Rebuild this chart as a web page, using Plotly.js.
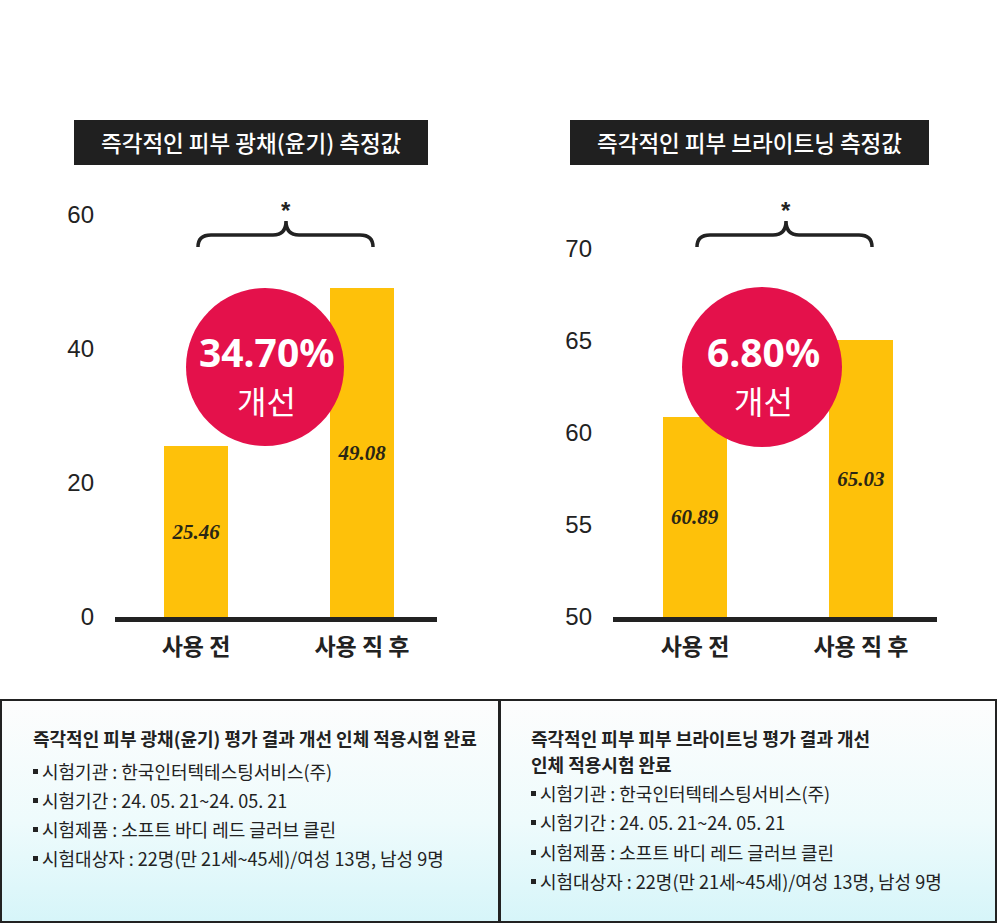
<!DOCTYPE html>
<html>
<head>
<meta charset="utf-8">
<script src="https://cdn.plot.ly/plotly-3.0.1.min.js"></script>
<style>
  html, body { margin: 0; padding: 0; background: #ffffff; }
  #wrap { position: relative; width: 1000px; height: 924px; overflow: hidden; background: #ffffff; }
  .panel { position: absolute; top: 700px; height: 222px;
           background: linear-gradient(to bottom, #fdfdfd 0%, #eefbfc 55%, #d6f5f9 100%); }
  #chart { position: absolute; left: 0; top: 0; width: 1000px; height: 924px; }
</style>
</head>
<body>
<div id="wrap">
  <div class="panel" style="left:1px; width:498px;"></div>
  <div class="panel" style="left:500px; width:496px;"></div>
  <div id="chart"></div>
</div>
<script>
// Measurement data
const categories = ['사용 전', '사용 직 후'];
const glossValues = [25.46, 49.08];      // 광채(윤기)
const brightValues = [60.89, 65.03];     // 브라이트닝
const glossTicks = [0, 20, 40, 60];
const brightTicks = [50, 55, 60, 65, 70];
const improvements = ['34.70%', '6.80%'];
const chartTitles = ['즉각적인 피부 광채(윤기) 측정값', '즉각적인 피부 브라이트닝 측정값'];
const panelTitles = [
  ['즉각적인 피부 광채(윤기) 평가 결과 개선 인체 적용시험 완료'],
  ['즉각적인 피부 피부 브라이트닝 평가 결과 개선', '인체 적용시험 완료']
];
const panelLines = [
  '시험기관 : 한국인터텍테스팅서비스(주)',
  '시험기간 : 24. 05. 21~24. 05. 21',
  '시험제품 : 소프트 바디 레드 글러브 클린',
  '시험대상자 : 22명(만 21세~45세)/여성 13명, 남성 9명'
];

const W = 1000, H = 924;
const fx = x => x / W;
const fy = y => 1 - y / H;
const P = (x, y) => fx(x) + ',' + fy(y);

const KR = 'Noto Sans CJK KR';
const INK = '#222222';
const BAR = '#FEC10A';
const RED = '#E4114B';

const glossBase = glossTicks[0];
const brightBase = brightTicks[0];

function barTrace(values, base, xa, ya) {
  return {
    type: 'bar', x: categories, y: values.map(v => v - base), base: base,
    xaxis: xa, yaxis: ya, width: 0.386,
    marker: { color: BAR, line: { width: 0 } },
    text: values.map(v => v.toFixed(2)),
    textposition: 'inside', insidetextanchor: 'middle', constraintext: 'none',
    textfont: { family: 'Liberation Serif', size: 21, weight: 700, style: 'italic', color: '#2a2615' },
    hoverinfo: 'skip', showlegend: false
  };
}

const data = [
  barTrace(glossValues, glossBase, 'x', 'y'),
  barTrace(brightValues, brightBase, 'x2', 'y2')
];

const yTickFont = { family: 'Liberation Sans', size: 24, color: INK };
const xTickFont = { family: KR, size: 23, weight: 700, color: INK };

const layout = {
  width: W, height: H,
  margin: { l: 0, r: 0, t: 0, b: 0 },
  paper_bgcolor: 'rgba(0,0,0,0)', plot_bgcolor: 'rgba(0,0,0,0)',
  bargap: 0,
  xaxis: { domain: [fx(115), fx(437)], range: [-0.488, 1.452], anchor: 'y',
           showline: true, linecolor: INK, linewidth: 5, showgrid: false, zeroline: false,
           ticks: '', tickfont: xTickFont, ticklabelstandoff: 5, fixedrange: true },
  yaxis: { domain: [fy(617), fy(215)], range: [glossTicks[0], glossTicks[glossTicks.length - 1]],
           anchor: 'x', tickvals: glossTicks, showline: false, showgrid: false, zeroline: false,
           ticks: '', tickfont: yTickFont, ticklabelstandoff: 20, fixedrange: true },
  xaxis2: { domain: [fx(613), fx(937)], range: [-0.494, 1.458], anchor: 'y2',
            showline: true, linecolor: INK, linewidth: 5, showgrid: false, zeroline: false,
            ticks: '', tickfont: xTickFont, ticklabelstandoff: 5, fixedrange: true },
  yaxis2: { domain: [fy(617), fy(249)], range: [brightTicks[0], brightTicks[brightTicks.length - 1]],
            anchor: 'x2', tickvals: brightTicks, showline: false, showgrid: false, zeroline: false,
            ticks: '', tickfont: yTickFont, ticklabelstandoff: 20, fixedrange: true },
  shapes: [],
  annotations: []
};

// chart titles on dark bars
const titleBoxes = [[74, 428], [570, 929]];
titleBoxes.forEach((b, i) => {
  layout.shapes.push({ type: 'rect', xref: 'paper', yref: 'paper',
    x0: fx(b[0]), x1: fx(b[1]), y0: fy(165), y1: fy(120),
    fillcolor: '#202020', line: { width: 0 }, layer: 'below' });
  layout.annotations.push({ xref: 'paper', yref: 'paper', x: fx((b[0] + b[1]) / 2), y: fy(142),
    text: chartTitles[i], showarrow: false, xanchor: 'center', yanchor: 'middle',
    font: { family: KR, size: 22.5, weight: 500, color: '#ffffff' } });
});

// significance braces with asterisks
function brace(x0, xm, x1) {
  const yEnd = 247, yBar = 235, yTip = 221, r = 13;
  return 'M ' + P(x0, yEnd) +
    ' Q ' + P(x0, yBar) + ' ' + P(x0 + r, yBar) +
    ' L ' + P(xm - r, yBar) +
    ' Q ' + P(xm, yBar) + ' ' + P(xm, yTip) +
    ' Q ' + P(xm, yBar) + ' ' + P(xm + r, yBar) +
    ' L ' + P(x1 - r, yBar) +
    ' Q ' + P(x1, yBar) + ' ' + P(x1, yEnd);
}
[[198, 286, 373], [697, 786, 872]].forEach(b => {
  layout.shapes.push({ type: 'path', xref: 'paper', yref: 'paper', path: brace(b[0], b[1], b[2]),
    line: { color: INK, width: 3.5 } });
  layout.annotations.push({ xref: 'paper', yref: 'paper', x: fx(b[1]), y: fy(210),
    text: '*', showarrow: false, xanchor: 'center', yanchor: 'middle',
    font: { family: 'Liberation Sans', size: 24, weight: 700, color: INK } });
});

// improvement badges
const badges = [[265, 367, 79], [762, 367, 80]];
badges.forEach((c, i) => {
  layout.shapes.push({ type: 'circle', xref: 'paper', yref: 'paper',
    x0: fx(c[0] - c[2]), x1: fx(c[0] + c[2]), y0: fy(c[1] + c[2]), y1: fy(c[1] - c[2]),
    fillcolor: RED, line: { width: 0 }, layer: 'above' });
  layout.annotations.push({ xref: 'paper', yref: 'paper', x: fx(c[0] + 1), y: fy(351),
    text: improvements[i], showarrow: false, xanchor: 'center', yanchor: 'middle',
    font: { family: 'Noto Sans', size: 39, weight: 700, color: '#ffffff' } });
  layout.annotations.push({ xref: 'paper', yref: 'paper', x: fx(c[0] + 1), y: fy(400),
    text: '개선', showarrow: false, xanchor: 'center', yanchor: 'middle',
    font: { family: KR, size: 32, weight: 400, color: '#ffffff' } });
});

// test information panels
[[1, 499], [500, 996]].forEach(b => {
  layout.shapes.push({ type: 'rect', xref: 'paper', yref: 'paper',
    x0: fx(b[0]), x1: fx(b[1]), y0: fy(922), y1: fy(700),
    fillcolor: 'rgba(0,0,0,0)', line: { color: INK, width: 2 } });
});
const panelText = [
  { x: 32, titleY: [738], lineY: [771, 800, 829, 858] },
  { x: 530, titleY: [738, 764], lineY: [793, 822, 852, 881] }
];
panelText.forEach((p, i) => {
  panelTitles[i].forEach((t, k) => {
    layout.annotations.push({ xref: 'paper', yref: 'paper', x: fx(p.x), y: fy(p.titleY[k]),
      text: t, showarrow: false, xanchor: 'left', yanchor: 'middle', align: 'left',
      borderpad: 0, font: { family: KR, size: 18, weight: 700, color: INK } });
  });
  panelLines.forEach((t, j) => {
    layout.shapes.push({ type: 'rect', xref: 'paper', yref: 'paper',
      x0: fx(p.x + 1), x1: fx(p.x + 6), y0: fy(p.lineY[j] + 3), y1: fy(p.lineY[j] - 2),
      fillcolor: INK, line: { width: 0 } });
    layout.annotations.push({ xref: 'paper', yref: 'paper', x: fx(p.x + 8), y: fy(p.lineY[j]),
      text: t, showarrow: false, xanchor: 'left', yanchor: 'middle', align: 'left',
      font: { family: KR, size: 18, weight: 400, color: INK } });
  });
});

Plotly.newPlot('chart', data, layout, { displayModeBar: false, staticPlot: true });
</script>
</body>
</html>
